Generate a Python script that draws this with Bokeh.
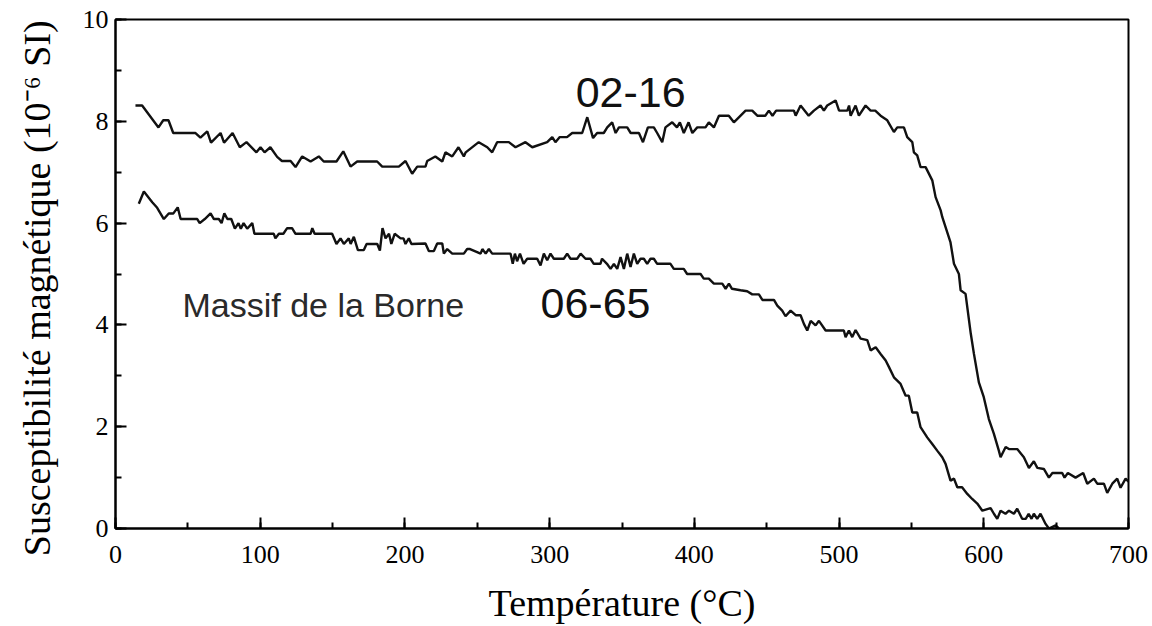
from bokeh.plotting import figure
from bokeh.models import Range1d, SingleIntervalTicker
from bokeh.core.properties import value
from bokeh.embed import file_html
from bokeh.resources import INLINE

# Sample 02-16 : temperature (°C) and susceptibility (10^-6 SI)
t_0216 = [13.8, 18.4, 29.7, 33.0, 36.6, 39.9, 55.3, 58.7, 63.4, 66.0, 72.6, 75.0, 80.9, 85.9, 90.5, 97.4, 100.2, 103.0, 107.0, 111.7,
          115.0, 121.0, 124.4, 129.0, 134.8, 140.5, 143.9, 152.7, 157.4, 162.4, 167.0, 180.8, 184.3, 195.8, 200.4, 205.0, 208.5, 214.2,
          215.4, 221.0, 225.8, 228.0, 232.7, 237.0, 240.7, 242.0, 251.0, 256.9, 260.3, 263.7, 271.8, 276.4, 283.3, 288.0, 298.3, 301.8,
          304.0, 307.0, 312.0, 315.6, 322.5, 326.0, 330.0, 332.8, 337.4, 339.8, 343.2, 345.6, 347.9, 353.6, 356.0, 361.7, 364.5, 367.9,
          372.0, 374.3, 377.8, 380.0, 384.7, 388.0, 390.0, 392.7, 396.0, 398.6, 402.0, 407.7, 410.0, 413.5, 417.0, 423.8, 427.3, 435.4,
          440.0, 443.5, 449.0, 451.5, 454.0, 456.5, 468.8, 470.0, 473.4, 479.0, 482.6, 487.2, 489.5, 491.8, 497.6, 500.0, 505.7, 506.9,
          508.0, 511.4, 513.7, 518.3, 521.8, 525.0, 528.7, 533.3, 537.9, 540.2, 544.8, 547.1, 550.6, 551.7, 554.0, 556.3, 559.8, 564.4,
          566.7, 570.2, 571.3, 577.0, 579.4, 582.8, 584.0, 587.4, 591.0, 593.2, 596.6, 600.0, 603.5, 607.0, 610.4, 611.6, 615.1, 617.4,
          623.1, 627.7, 631.2, 634.6, 637.0, 641.5, 645.0, 647.4, 654.2, 655.8, 658.1, 663.4, 668.7, 671.5, 676.1, 678.4, 683.0, 685.3,
          688.8, 692.2, 694.5, 698.0, 700.0]
k_0216 = [8.31, 8.31, 7.88, 8.02, 8.02, 7.77, 7.77, 7.68, 7.80, 7.58, 7.77, 7.58, 7.77, 7.49, 7.59, 7.39, 7.49, 7.39, 7.49, 7.30,
          7.22, 7.22, 7.10, 7.31, 7.21, 7.31, 7.21, 7.21, 7.41, 7.11, 7.21, 7.21, 7.11, 7.11, 7.22, 6.97, 7.11, 7.11,
          7.22, 7.31, 7.21, 7.39, 7.31, 7.49, 7.31, 7.39, 7.59, 7.49, 7.39, 7.59, 7.59, 7.49, 7.59, 7.49, 7.59, 7.69,
          7.59, 7.69, 7.69, 7.77, 7.77, 8.08, 7.67, 7.77, 7.77, 7.88, 7.98, 7.77, 7.88, 7.88, 7.77, 7.77, 7.59, 7.88,
          7.88, 7.77, 7.59, 7.88, 7.98, 7.88, 7.98, 7.77, 7.98, 7.77, 7.88, 7.88, 7.98, 7.88, 8.11, 8.11, 7.98, 8.21,
          8.21, 8.11, 8.11, 8.21, 8.11, 8.21, 8.21, 8.11, 8.31, 8.11, 8.21, 8.31, 8.21, 8.31, 8.41, 8.21, 8.21, 8.31,
          8.11, 8.31, 8.11, 8.31, 8.21, 8.21, 8.11, 8.02, 7.79, 7.88, 7.88, 7.69, 7.59, 7.39, 7.33, 7.10, 7.10, 6.84,
          6.51, 6.25, 6.12, 5.62, 5.20, 5.00, 4.68, 4.61, 3.83, 3.43, 2.87, 2.58, 2.15, 1.86, 1.53, 1.40, 1.60, 1.56,
          1.56, 1.40, 1.19, 1.32, 1.19, 1.17, 1.00, 1.09, 1.09, 1.00, 1.09, 1.00, 1.09, 0.88, 0.98, 0.88, 0.88, 0.70,
          0.88, 0.98, 0.80, 0.98, 0.92]

# Sample 06-65
t_0665 = [16.1, 19.6, 25.4, 28.8, 33.4, 36.8, 40.0, 43.0, 45.0, 56.5, 58.2, 61.7, 65.7, 68.0, 71.4, 73.3, 75.2, 77.3, 80.0, 82.5,
          85.0, 86.6, 88.5, 91.0, 94.5, 96.0, 109.4, 110.5, 112.9, 116.0, 118.6, 122.0, 124.4, 134.8, 136.0, 137.6, 149.7, 152.7,
          155.5, 157.8, 161.2, 162.5, 164.7, 167.5, 171.6, 173.5, 180.9, 182.7, 184.5, 186.6, 189.0, 190.6, 192.9, 197.0, 199.0,
          200.4, 202.7, 204.5, 214.2, 216.5, 220.0, 222.3, 225.8, 226.9, 229.2, 232.7, 240.7, 243.0, 245.0, 252.3, 253.5, 255.8,
          258.0, 260.3, 270.0, 273.0, 274.5, 276.0, 277.5, 279.5, 282.0, 284.5, 291.4, 293.7, 296.0, 298.3, 300.6, 302.9, 309.8,
          312.1, 314.4, 319.0, 321.4, 324.8, 328.2, 330.5, 335.1, 336.2, 339.6, 342.1, 344.4, 346.7, 349.0, 351.3, 353.6, 355.9,
          358.2, 360.5, 362.8, 365.1, 367.4, 369.7, 372.0, 374.3, 383.5, 385.8, 392.7, 395.0, 404.3, 406.5, 410.0, 413.5, 419.3,
          421.6, 423.9, 426.0, 431.9, 436.5, 440.0, 444.6, 447.0, 455.0, 457.3, 460.7, 463.0, 466.5, 470.0, 473.4, 475.7, 478.0,
          480.4, 483.8, 486.1, 490.7, 503.3, 504.5, 506.8, 509.1, 511.4, 514.9, 519.5, 521.8, 525.3, 528.7, 532.2, 534.5, 537.9,
          542.5, 546.0, 548.2, 550.6, 554.0, 556.3, 560.9, 564.4, 567.8, 571.3, 573.6, 577.0, 579.4, 581.7, 585.0, 588.6, 592.0,
          595.5, 599.0, 602.4, 604.7, 607.0, 609.3, 611.6, 615.0, 617.4, 620.8, 623.1, 626.5, 629.0, 631.0, 633.0, 634.6, 636.9,
          639.2, 642.7, 645.0, 649.6, 652.0]
k_0665 = [6.38, 6.62, 6.41, 6.30, 6.08, 6.19, 6.19, 6.31, 6.08, 6.08, 6.00, 6.08, 6.19, 6.08, 6.08, 6.00, 6.19, 6.08, 6.08, 5.89,
          6.00, 5.89, 6.00, 5.89, 6.00, 5.79, 5.79, 5.70, 5.79, 5.79, 5.90, 5.90, 5.79, 5.79, 5.90, 5.79, 5.79, 5.59,
          5.70, 5.59, 5.70, 5.59, 5.73, 5.47, 5.47, 5.59, 5.59, 5.46, 5.90, 5.70, 5.79, 5.59, 5.79, 5.70, 5.70,
          5.59, 5.70, 5.59, 5.60, 5.45, 5.45, 5.60, 5.60, 5.40, 5.49, 5.40, 5.40, 5.49, 5.49, 5.40, 5.49, 5.40,
          5.49, 5.40, 5.40, 5.40, 5.20, 5.40, 5.25, 5.40, 5.20, 5.30, 5.30, 5.17, 5.40, 5.27, 5.40, 5.30, 5.30,
          5.40, 5.30, 5.30, 5.40, 5.30, 5.30, 5.20, 5.20, 5.30, 5.20, 5.10, 5.20, 5.10, 5.33, 5.10, 5.40, 5.14,
          5.40, 5.20, 5.30, 5.30, 5.20, 5.30, 5.30, 5.20, 5.20, 5.10, 5.10, 5.00, 5.00, 4.91, 4.91, 4.81, 4.81,
          4.71, 4.81, 4.71, 4.68, 4.66, 4.60, 4.60, 4.49, 4.49, 4.38, 4.28, 4.17, 4.28, 4.19, 4.19, 4.02, 3.89,
          4.08, 3.99, 4.08, 3.89, 3.89, 3.76, 3.89, 3.76, 3.90, 3.73, 3.70, 3.50, 3.56, 3.43, 3.30, 3.17, 2.97,
          2.84, 2.61, 2.61, 2.28, 2.28, 1.99, 1.79, 1.66, 1.53, 1.40, 1.27, 0.94, 0.98, 0.81, 0.81, 0.68, 0.58,
          0.49, 0.35, 0.38, 0.40, 0.29, 0.19, 0.35, 0.29, 0.35, 0.29, 0.39, 0.19, 0.19, 0.29, 0.19, 0.29, 0.19,
          0.29, 0.09, 0.00, 0.06, 0.00]

x_label = "Température (°C)"
y_label = "Susceptibilité magnétique (10\u207b\u2076  SI)\u00a0\u00a0"
region_label = "Massif de la Borne"
sample_labels = ["02-16", "06-65"]

SERIF = "Liberation Serif"
SANS = "Liberation Sans"

p = figure(frame_width=1013, frame_height=509, output_backend="svg", toolbar_location=None,
           x_range=Range1d(0, 700), y_range=Range1d(0, 10),
           min_border_left=115, min_border_right=24, min_border_top=19, min_border_bottom=96)

p.grid.visible = False
p.outline_line_color = "black"
p.outline_line_width = 2
p.background_fill_color = "white"
p.border_fill_color = "white"

p.xaxis.ticker = SingleIntervalTicker(interval=100, num_minor_ticks=2)
p.yaxis.ticker = SingleIntervalTicker(interval=2, num_minor_ticks=2)

for ax in (p.xaxis, p.yaxis):
    ax.axis_line_width = 2
    ax.axis_line_color = "black"
    ax.major_tick_in = 11
    ax.major_tick_out = 0
    ax.minor_tick_in = 6
    ax.minor_tick_out = 0
    ax.major_tick_line_width = 2
    ax.minor_tick_line_width = 2
    ax.major_tick_line_color = "black"
    ax.minor_tick_line_color = "black"
    ax.major_label_text_font = SERIF
    ax.major_label_text_font_size = "26px"
    ax.major_label_text_color = "black"
    ax.axis_label_text_font = SERIF
    ax.axis_label_text_font_size = "38px"
    ax.axis_label_text_font_style = "normal"
    ax.axis_label_text_color = "black"

p.xaxis.axis_label = x_label
p.yaxis.axis_label = y_label
p.xaxis.major_label_standoff = 17
p.yaxis.major_label_standoff = 7
p.xaxis.axis_label_standoff = 16
p.yaxis.axis_label_standoff = 22

p.line(t_0216, k_0216, line_color="#111111", line_width=2.4)
p.line(t_0665, k_0665, line_color="#111111", line_width=2.4)

p.text(x=[318], y=[8.57], text=[sample_labels[0]], text_font=value(SANS), text_font_size="43px",
       text_color="#111111", text_align="left", text_baseline="alphabetic")
p.text(x=[293.7], y=[4.43], text=[sample_labels[1]], text_font=value(SANS), text_font_size="43px",
       text_color="#111111", text_align="left", text_baseline="alphabetic")
p.text(x=[46.3], y=[4.40], text=[region_label], text_font=value(SANS), text_font_size="34px",
       text_color="#2a2a2a", text_align="left", text_baseline="alphabetic")

open("out.html", "w").write(file_html(p, INLINE))
